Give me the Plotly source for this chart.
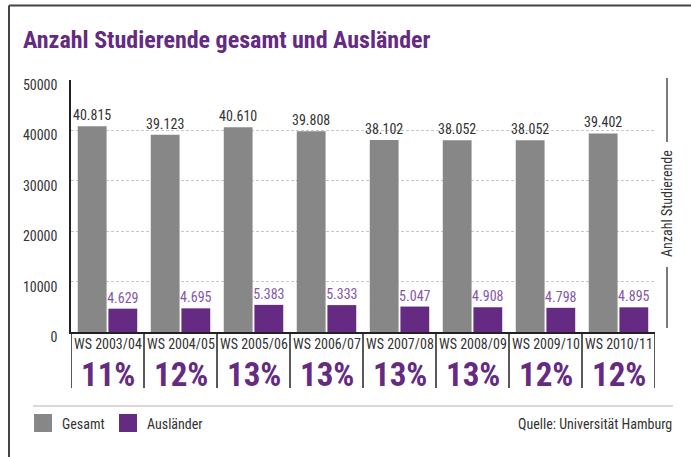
import plotly.graph_objects as go

categories = ["WS 2003/04", "WS 2004/05", "WS 2005/06", "WS 2006/07",
              "WS 2007/08", "WS 2008/09", "WS 2009/10", "WS 2010/11"]
gesamt = [40815, 39123, 40610, 39808, 38102, 38052, 38052, 39402]
auslaender = [4629, 4695, 5383, 5333, 5047, 4908, 4798, 4895]
anteil = ["11%", "12%", "13%", "13%", "13%", "13%", "12%", "12%"]
y_ticks = [0, 10000, 20000, 30000, 40000, 50000]

FONT = "Roboto Condensed, DejaVu Sans Condensed, sans-serif"
GRAY = "#878787"
PURPLE = "#652a82"
PURPLE_TXT = "#8457a8"
DARK = "#333333"

W, H = 691, 457
L, R, T, B = 71, 36, 80, 125
PW, PH = W - L - R, H - T - B


def px(x):
    return (x - L) / PW


def py(y):
    return (H - B - y) / PH


x = list(range(len(categories)))

fig = go.Figure()
fig.add_trace(go.Bar(x=x, y=gesamt, name="Gesamt", marker=dict(color=GRAY, line=dict(width=0)),
                     texttemplate="%{y:,}", textposition="outside", constraintext="none",
                     textfont=dict(family=FONT, size=14, color=DARK), cliponaxis=False))
fig.add_trace(go.Bar(x=x, y=auslaender, name="Ausländer", marker=dict(color=PURPLE, line=dict(width=0)),
                     texttemplate="%{y:,}", textposition="outside", constraintext="none",
                     textfont=dict(family=FONT, size=14, color=PURPLE_TXT), cliponaxis=False))

shapes = []
annotations = []
n = len(categories)
# category separators (boxes under the axis)
for i in range(n + 1):
    shapes.append(dict(type="line", xref="x", yref="paper", x0=i - 0.5, x1=i - 0.5,
                       y0=0, y1=py(388), line=dict(color="#222", width=1.5)))
for i, (c, p) in enumerate(zip(categories, anteil)):
    annotations.append(dict(x=i, y=py(344), xref="x", yref="paper", text=c, showarrow=False,
                            font=dict(family=FONT, size=14, color=DARK),
                            xanchor="center", yanchor="middle"))
    annotations.append(dict(x=i, y=py(374), xref="x", yref="paper", text="<b>%s</b>" % p, showarrow=False,
                            font=dict(family=FONT, size=33, color=PURPLE),
                            xanchor="center", yanchor="middle"))

# right axis label with bracket lines
shapes.append(dict(type="line", xref="paper", yref="paper", x0=px(667), x1=px(667),
                   y0=py(78), y1=py(142), line=dict(color="#222", width=1.2)))
shapes.append(dict(type="line", xref="paper", yref="paper", x0=px(667), x1=px(667),
                   y0=py(267), y1=py(328), line=dict(color="#222", width=1.2)))
annotations.append(dict(x=px(667), y=py(204), xref="paper", yref="paper", text="Anzahl Studierende",
                        textangle=-90, showarrow=False, xanchor="center", yanchor="middle",
                        font=dict(family=FONT, size=14, color=DARK)))

# separator line above legend
shapes.append(dict(type="line", xref="paper", yref="paper", x0=px(33), x1=px(673),
                   y0=py(406), y1=py(406), line=dict(color="#cccccc", width=1.5)))
# legend swatches
shapes.append(dict(type="rect", xref="paper", yref="paper", x0=px(34), x1=px(52),
                   y0=py(432), y1=py(414), fillcolor=GRAY, line=dict(width=0)))
shapes.append(dict(type="rect", xref="paper", yref="paper", x0=px(119), x1=px(137),
                   y0=py(432), y1=py(414), fillcolor=PURPLE, line=dict(width=0)))
annotations.append(dict(x=px(60), y=py(424), xref="paper", yref="paper", text="Gesamt", showarrow=False,
                        xanchor="left", yanchor="middle", font=dict(family=FONT, size=14, color=DARK)))
annotations.append(dict(x=px(145), y=py(424), xref="paper", yref="paper", text="Ausländer", showarrow=False,
                        xanchor="left", yanchor="middle", font=dict(family=FONT, size=14, color=DARK)))
annotations.append(dict(x=px(674), y=py(424), xref="paper", yref="paper", text="Quelle: Universität Hamburg",
                        showarrow=False, xanchor="right", yanchor="middle",
                        font=dict(family=FONT, size=14, color=DARK)))

# outer frame
shapes.append(dict(type="line", xref="paper", yref="paper", x0=px(9), x1=px(W + 5),
                   y0=py(5.5), y1=py(5.5), line=dict(color="#444", width=2)))
shapes.append(dict(type="line", xref="paper", yref="paper", x0=px(9), x1=px(9),
                   y0=py(5.5), y1=py(H + 5), line=dict(color="#444", width=2)))

# title
annotations.append(dict(x=px(21), y=py(40), xref="paper", yref="paper",
                        text="<b>Anzahl Studierende gesamt und Ausländer</b>", showarrow=False,
                        xanchor="left", yanchor="middle", font=dict(family=FONT, size=24, color=PURPLE)))

fig.update_layout(
    width=W, height=H,
    margin=dict(l=L, r=R, t=T, b=B, pad=0),
    paper_bgcolor="white", plot_bgcolor="white",
    separators=",.",
    barmode="group", bargap=0.16, bargroupgap=0.06,
    showlegend=False,
    shapes=shapes, annotations=annotations,
    xaxis=dict(range=[-0.5, n - 0.5], showticklabels=False, showgrid=False, zeroline=False,
               showline=True, linecolor="#222", linewidth=1.5, ticks=""),
    yaxis=dict(range=[0, 50000], tickvals=y_ticks, ticktext=[str(v) for v in y_ticks],
               showgrid=True, gridcolor="#c8c8c8", griddash="3px,2px", gridwidth=1,
               zeroline=False, showline=True, linecolor="#222", linewidth=1.5,
               ticks="", ticklabelstandoff=9, ticklabelshift=5,
               tickfont=dict(family=FONT, size=14, color=DARK)),
)

fig.write_html("out.html", config={"displayModeBar": False},
               post_script="document.body.style.margin='0';document.body.style.overflow='hidden';")
